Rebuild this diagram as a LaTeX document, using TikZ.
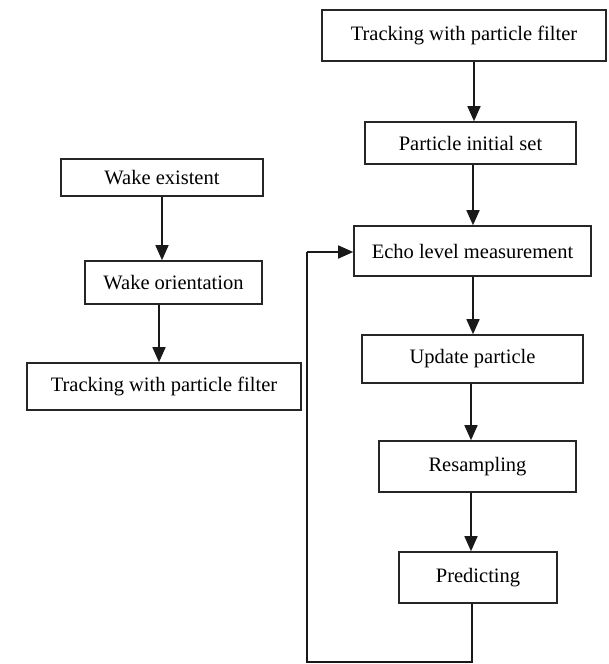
\documentclass[tikz,border=0pt]{standalone}
\usepackage{fontspec}
\setmainfont{Liberation Serif}
\usetikzlibrary{arrows.meta}
\begin{document}
\begin{tikzpicture}[x=1pt,y=-1pt,
  box/.style={draw=black!85, line width=1.6pt, fill=white, inner sep=0pt, font=\fontsize{20.5}{24}\selectfont},
  arr/.style={draw=black!90, line width=1.6pt, -{Triangle[width=13pt,length=15pt]}},
  ln/.style={draw=black!90, line width=1.6pt}]
\useasboundingbox (0,0) rectangle (609,664);
% right column
\node[box, minimum width=284pt, minimum height=51pt] (T1) at (464,35.5) {Tracking with particle filter};
\node[box, minimum width=211pt, minimum height=42pt] (P) at (470.5,143) {Particle initial set};
\node[box, minimum width=237pt, minimum height=50pt] (E) at (472.5,251) {Echo level measurement};
\node[box, minimum width=221pt, minimum height=48pt] (U) at (472.5,359) {Update particle};
\node[box, minimum width=197pt, minimum height=51pt] (R) at (477.5,466.5) {Resampling};
\node[box, minimum width=158pt, minimum height=51pt] (Pr) at (478,577.5) {Predicting};
% left column
\node[box, minimum width=202pt, minimum height=37pt] (W1) at (162,177.5) {Wake existent};
\node[box, minimum width=177pt, minimum height=43pt] (W2) at (173.5,282.5) {Wake orientation};
\node[box, minimum width=274pt, minimum height=47pt] (T2) at (164,386.5) {Tracking with particle filter};
% column coordinates
\coordinate (c1) at (474,0);
\coordinate (c2) at (473,0);
\coordinate (c3) at (471,0);
\coordinate (c4) at (472,0);
\coordinate (l1) at (162,0);
\coordinate (l2) at (159,0);
\coordinate (fbb) at (472,662);
\coordinate (fbl) at (307,662);
\coordinate (fbt) at (307,252);
% arrows
\draw[arr] (T1.south -| c1) -- (P.north -| c1);
\draw[arr] (P.south -| c2) -- (E.north -| c2);
\draw[arr] (E.south -| c2) -- (U.north -| c2);
\draw[arr] (U.south -| c3) -- (R.north -| c3);
\draw[arr] (R.south -| c3) -- (Pr.north -| c3);
\draw[arr] (W1.south -| l1) -- (W2.north -| l1);
\draw[arr] (W2.south -| l2) -- (T2.north -| l2);
% feedback loop
\draw[ln] (Pr.south -| c4) -- (fbb) -- (fbl) -- (fbt);
\draw[arr] (fbt) -- (E.west |- fbt);
\end{tikzpicture}
\end{document}
